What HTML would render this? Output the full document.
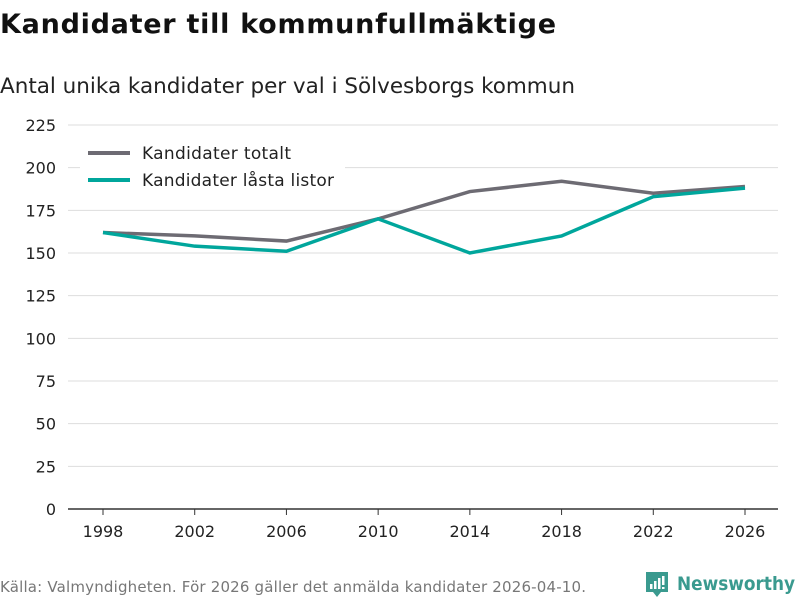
<!DOCTYPE html>
<html><head><meta charset="utf-8"><style>
body{margin:0;background:#fff;width:800px;height:600px;overflow:hidden;font-family:"DejaVu Sans","Liberation Sans",sans-serif;}
</style></head><body>
<svg width="800" height="600" id="chart" font-family="DejaVu Sans, Liberation Sans, sans-serif">
<text x="0" y="33" font-size="27" font-weight="bold" fill="#111" textLength="556">Kandidater till kommunfullmäktige</text>
<text x="0" y="93" font-size="21.5" fill="#222" textLength="575">Antal unika kandidater per val i Sölvesborgs kommun</text>
<g id="grid"></g><g id="xaxis"></g><g id="lines"></g>
<g>
<rect x="80" y="138" width="265" height="60" fill="#fff"/>
<line x1="88" y1="153" x2="130" y2="153" stroke="#6d6b73" stroke-width="4"/>
<text x="142" y="159" font-size="17" fill="#222" textLength="149">Kandidater totalt</text>
<line x1="88" y1="180" x2="130" y2="180" stroke="#00a69c" stroke-width="4"/>
<text x="142" y="186" font-size="17" fill="#222" textLength="192">Kandidater låsta listor</text>
</g>
<text x="0" y="592" font-size="15" fill="#777" textLength="586">Källa: Valmyndigheten. För 2026 gäller det anmälda kandidater 2026-04-10.</text>
<g>
<path d="M646 572h22v20h-7l-4 5-4-5h-7z" fill="#3a9a8f"/>
<rect x="650" y="584" width="2.5" height="5" fill="#fff"/><rect x="654" y="581" width="2.5" height="8" fill="#fff"/><rect x="658" y="578" width="2.5" height="11" fill="#fff"/><rect x="662" y="576" width="2.5" height="9" fill="#fff"/><rect x="662" y="587" width="2.5" height="2" fill="#fff"/>
<text x="677" y="590" font-size="19" fill="#3a9a8f" font-weight="bold" textLength="118" lengthAdjust="spacingAndGlyphs">Newsworthy</text>
</g>
</svg>
<script>
const years=[1998,2002,2006,2010,2014,2018,2022,2026];
const totalt=[162,160,157,170,186,192,185,189];
const lasta=[162,154,151,170,150,160,183,188];
const yTicks=[0,25,50,75,100,125,150,175,200,225];
const NS="http://www.w3.org/2000/svg";
const x=v=>103+(v-1998)*(642/28);
const y=v=>509-v*(384/225);
const grid=document.getElementById('grid');
yTicks.forEach(t=>{
 const l=document.createElementNS(NS,'line');
 
 
 l.setAttribute('x1',68);l.setAttribute('x2',778);l.setAttribute('y1',y(t));l.setAttribute('y2',y(t));
 l.setAttribute('stroke',t===0?'#333':'#ddd');l.setAttribute('stroke-width',t===0?1.5:1);
 grid.appendChild(l);
 const tx=document.createElementNS(NS,'text');
 
 
 tx.setAttribute('x',56);tx.setAttribute('y',y(t)+6);tx.setAttribute('text-anchor','end');tx.setAttribute('font-size','16');tx.setAttribute('fill','#222');
 tx.textContent=t;grid.appendChild(tx);
});
const xa=document.getElementById('xaxis');
years.forEach(yr=>{
 const tk=document.createElementNS(NS,'line');
 
 
 tk.setAttribute('x1',x(yr));tk.setAttribute('x2',x(yr));tk.setAttribute('y1',509);tk.setAttribute('y2',515);tk.setAttribute('stroke','#333');
 xa.appendChild(tk);
 const tx=document.createElementNS(NS,'text');
 
 
 tx.setAttribute('x',x(yr));tx.setAttribute('y',537);tx.setAttribute('text-anchor','middle');tx.setAttribute('font-size','16');tx.setAttribute('fill','#222');
 tx.textContent=yr;xa.appendChild(tx);
});
const lines=document.getElementById('lines');
[[totalt,'#6d6b73','line-totalt'],[lasta,'#00a69c','line-lasta']].forEach(([d,c,n])=>{
 const p=document.createElementNS(NS,'polyline');
 
 
 p.setAttribute('points',d.map((v,i)=>x(years[i])+','+y(v)).join(' '));
 p.setAttribute('fill','none');p.setAttribute('stroke',c);p.setAttribute('stroke-width',3.5);
 lines.appendChild(p);
});
</script>
</body></html>
